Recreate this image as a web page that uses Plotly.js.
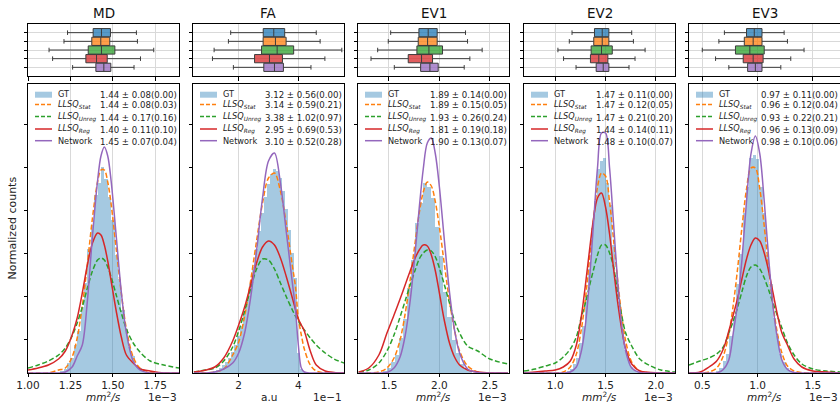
<!DOCTYPE html>
<html><head><meta charset="utf-8">
<script src="https://cdn.plot.ly/plotly-3.0.1.min.js"></script>
<style>html,body{margin:0;padding:0;background:#fff;} #chart{width:840px;height:403px;}</style>
</head><body><div id="chart"></div>
<script>
// ---------------- DATA ----------------
const methodLabels = ['GT', '<i>LLSQ</i><sub><i>Stat</i></sub>', '<i>LLSQ</i><sub><i>Unreg</i></sub>', '<i>LLSQ</i><sub><i>Reg</i></sub>', 'Network'];
const panelTitles = ['MD', 'FA', 'EV1', 'EV2', 'EV3'];

// MD (x in 1e-3 mm^2/s)
const MD_x     = [1.00,1.06,1.12,1.18,1.22,1.26,1.29,1.32,1.35,1.38,1.41,1.43,1.45,1.47,1.49,1.52,1.55,1.58,1.62,1.66,1.72,1.80,1.89];
const MD_stat  = [0,0,0,3,5,16,35,67,109,155,191,203,203,191,169,124,80,44,16,5,1,0,0];
const MD_unreg = [5,8,12,18,25,37,50,66,85,102,113,115,113,106,96,78,60,44,30,21,12,8,5];
const MD_reg   = [3,5,8,14,22,38,55,80,108,130,140,138,128,112,92,62,36,18,10,4,2,0,0];
const MD_net   = [0,0,0,0,1,6,17,28,72,137,192,217,226,217,192,137,81,40,12,3,0,0,0];
const MD_gt    = [2,4,10,15,28,42,66,90,124,148,178,190,206,194,176,153,118,94,63,44,26,17,8,5,2,1];
const MD_gt_start = 1.20, MD_gt_bin = 0.02;
const MD_stats = ['1.44 ± 0.08(0.00)','1.44 ± 0.08(0.03)','1.44 ± 0.17(0.16)','1.40 ± 0.11(0.10)','1.45 ± 0.07(0.04)'];
const MD_q1  = [1.384,1.376,1.355,1.341,1.400];
const MD_med = [1.433,1.429,1.433,1.404,1.447];
const MD_q3  = [1.486,1.482,1.512,1.467,1.488];
const MD_lo  = [1.233,1.212,1.124,1.145,1.263];
const MD_hi  = [1.639,1.645,1.741,1.663,1.625];
const MD_ticks = [1.00,1.25,1.50,1.75], MD_tickText = ['1.00','1.25','1.50','1.75'];

// FA (x in 1e-1 a.u)
const FA_x     = [0.5,0.9,1.2,1.5,1.8,2.0,2.2,2.4,2.6,2.8,3.0,3.2,3.4,3.6,3.8,3.9,4.0,4.1,4.2,4.4,4.6,4.9,5.2,5.53];
const FA_stat  = [0,0,1,4,18,31,57,92,132,170,195,200,182,148,107,87,55,38,24,8,2,0,0,0];
const FA_unreg = [1,3,5,12,26,42,62,84,104,114,113,104,90,76,63,57,52,47,43,35,28,20,14,10];
const FA_reg   = [1,3,6,15,32,48,66,88,110,126,132,128,115,96,75,64,54,48,42,22,8,2,0.5,0];
const FA_net   = [0,0,1,4,10,20,40,75,122,175,212,220,190,140,90,65,28,5,1,0,0,0,0,0];
const FA_gt    = [2,3,5,8,11,15,21,28,37,47,59,73,89,106,124,142,160,176,189,199,204,202,195,182,164,143,120,95,20,4,1];
const FA_gt_start = 1.2, FA_gt_bin = 0.1;
const FA_stats = ['3.12 ± 0.56(0.00)','3.14 ± 0.59(0.21)','3.38 ± 1.02(0.97)','2.95 ± 0.69(0.53)','3.10 ± 0.52(0.28)'];
const FA_q1  = [2.823,2.820,2.767,2.533,2.843];
const FA_med = [3.177,3.233,3.290,3.033,3.200];
const FA_q3  = [3.543,3.590,3.843,3.467,3.500];
const FA_lo  = [1.733,1.657,1.177,1.122,1.823];
const FA_hi  = [4.600,4.730,5.457,4.890,4.423];
const FA_ticks = [2,4], FA_tickText = ['2','4'];

// EV1 (x in 1e-3 mm^2/s)
const EV1_x     = [1.20,1.30,1.40,1.48,1.55,1.61,1.66,1.71,1.76,1.80,1.84,1.88,1.92,1.96,2.00,2.05,2.10,2.15,2.20,2.28,2.38,2.50,2.68];
const EV1_stat  = [0,0,1,5,15,33,59,93,131,160,181,191,187,171,146,108,72,43,22,7,1,0,0];
const EV1_unreg = [1,3,10,22,38,56,72,88,103,114,120,123,122,116,105,88,70,52,40,27,22,14,9];
const EV1_reg   = [1,5,18,40,58,74,88,102,115,123,128,127,118,102,80,52,30,16,8,3,1,0,0];
const EV1_net   = [0,0,0,0.5,5,16,37,72,121,165,204,230,235,219,186,132,81,43,20,4,0.5,0,0];
const EV1_gt    = [2,5,11,18,35,54,85,113,150,170,190,186,175,146,117,81,56,33,20,9,5,2];
const EV1_gt_start = 1.46, EV1_gt_bin = 0.04;
const EV1_stats = ['1.89 ± 0.14(0.00)','1.89 ± 0.15(0.05)','1.93 ± 0.26(0.24)','1.81 ± 0.19(0.18)','1.90 ± 0.13(0.07)'];
const EV1_q1  = [1.797,1.790,1.777,1.691,1.814];
const EV1_med = [1.889,1.883,1.896,1.823,1.906];
const EV1_q3  = [1.978,1.978,2.031,1.932,1.988];
const EV1_lo  = [1.517,1.493,1.388,1.322,1.553];
const EV1_hi  = [2.259,2.279,2.424,2.302,2.246];
const EV1_ticks = [1.5,2.0,2.5], EV1_tickText = ['1.5','2.0','2.5'];

// EV2 (x in 1e-3 mm^2/s)
const EV2_x     = [0.69,0.80,0.90,1.00,1.08,1.15,1.21,1.26,1.30,1.34,1.38,1.42,1.46,1.50,1.54,1.58,1.62,1.66,1.70,1.76,1.84,1.95,2.05,2.19];
const EV2_stat  = [0,0,0,0,1,6,19,44,74,113,153,186,200,197,171,133,93,58,32,11,2,0,0,0];
const EV2_unreg = [2,4,7,10,16,24,36,56,70,87,103,118,128,128,120,106,80,58,40,27,14,7,3,1];
const EV2_reg   = [0,1,2,3,6,12,28,57,88,122,154,175,180,166,139,104,71,44,24,9,2,0.5,0,0];
const EV2_net   = [0,0,0,0,0,1,6,22,48,92,149,205,240,240,205,149,92,48,22,5,0.5,0,0,0];
const EV2_gt    = [2,4,9,15,30,47,77,104,145,172,204,212,215,190,168,128,98,63,42,23,14,6,3,1];
const EV2_gt_start = 1.13, EV2_gt_bin = 0.03;
const EV2_stats = ['1.47 ± 0.11(0.00)','1.47 ± 0.12(0.05)','1.47 ± 0.21(0.20)','1.44 ± 0.14(0.11)','1.48 ± 0.10(0.07)'];
const EV2_q1  = [1.390,1.383,1.357,1.350,1.407];
const EV2_med = [1.467,1.467,1.460,1.433,1.477];
const EV2_q3  = [1.533,1.533,1.567,1.523,1.533];
const EV2_lo  = [1.167,1.140,1.027,1.083,1.207];
const EV2_hi  = [1.760,1.777,1.893,1.793,1.733];
const EV2_ticks = [1.0,1.5,2.0], EV2_tickText = ['1.0','1.5','2.0'];

// EV3 (x in 1e-3 mm^2/s)
const EV3_x     = [0.38,0.48,0.56,0.63,0.69,0.74,0.78,0.82,0.86,0.90,0.94,0.98,1.02,1.06,1.10,1.14,1.18,1.22,1.27,1.33,1.40,1.50,1.62,1.75];
const EV3_stat  = [0,0,1,5,17,39,68,105,147,184,205,205,184,147,105,68,39,20,7,2,0.5,0,0,0];
const EV3_unreg = [8,12,15,19,26,40,52,66,82,97,106,108,104,95,83,70,57,45,30,18,9,4,2,1];
const EV3_reg   = [0,1,6,12,24,42,58,75,95,114,128,135,132,120,102,80,58,40,28,14,6,2,1,0];
const EV3_net   = [0,0,0,0,3.5,13,40,70,115,172,219,237,219,172,115,66,34,13,3.5,0.5,0,0,0,0];
const EV3_gt    = [2,5,12,19,37,55,89,119,160,186,215,218,214,186,160,118,89,55,37,19,11,5,2,1];
const EV3_gt_start = 0.64, EV3_gt_bin = 0.03;
const EV3_stats = ['0.97 ± 0.11(0.00)','0.96 ± 0.12(0.04)','0.93 ± 0.22(0.21)','0.96 ± 0.13(0.09)','0.98 ± 0.10(0.06)'];
const EV3_q1  = [0.900,0.880,0.800,0.870,0.910];
const EV3_med = [0.970,0.960,0.930,0.960,0.980];
const EV3_q3  = [1.040,1.040,1.060,1.050,1.040];
const EV3_lo  = [0.700,0.650,0.500,0.620,0.740];
const EV3_hi  = [1.240,1.270,1.420,1.300,1.210];
const EV3_ticks = [0.5,1.0,1.5], EV3_tickText = ['0.5','1.0','1.5'];

// ---------------- BUILD ----------------
const W = 840, H = 403;
const panels = [
  {x:MD_x, curves:[MD_stat,MD_unreg,MD_reg,MD_net], gt:MD_gt, g0:MD_gt_start, gb:MD_gt_bin, stats:MD_stats, box:[MD_q1,MD_med,MD_q3,MD_lo,MD_hi], range:[1.0,1.89], tv:MD_ticks, tt:MD_tickText, xlabel:'<i>mm</i><sup>2</sup><i>/s</i>', off:'1e\u22123'},
  {x:FA_x, curves:[FA_stat,FA_unreg,FA_reg,FA_net], gt:FA_gt, g0:FA_gt_start, gb:FA_gt_bin, stats:FA_stats, box:[FA_q1,FA_med,FA_q3,FA_lo,FA_hi], range:[0.47,5.53], tv:FA_ticks, tt:FA_tickText, xlabel:'a.u', off:'1e\u22121'},
  {x:EV1_x, curves:[EV1_stat,EV1_unreg,EV1_reg,EV1_net], gt:EV1_gt, g0:EV1_gt_start, gb:EV1_gt_bin, stats:EV1_stats, box:[EV1_q1,EV1_med,EV1_q3,EV1_lo,EV1_hi], range:[1.193,2.69], tv:EV1_ticks, tt:EV1_tickText, xlabel:'<i>mm</i><sup>2</sup><i>/s</i>', off:'1e\u22123'},
  {x:EV2_x, curves:[EV2_stat,EV2_unreg,EV2_reg,EV2_net], gt:EV2_gt, g0:EV2_gt_start, gb:EV2_gt_bin, stats:EV2_stats, box:[EV2_q1,EV2_med,EV2_q3,EV2_lo,EV2_hi], range:[0.69,2.19], tv:EV2_ticks, tt:EV2_tickText, xlabel:'<i>mm</i><sup>2</sup><i>/s</i>', off:'1e\u22123'},
  {x:EV3_x, curves:[EV3_stat,EV3_unreg,EV3_reg,EV3_net], gt:EV3_gt, g0:EV3_gt_start, gb:EV3_gt_bin, stats:EV3_stats, box:[EV3_q1,EV3_med,EV3_q3,EV3_lo,EV3_hi], range:[0.38,1.745], tv:EV3_ticks, tt:EV3_tickText, xlabel:'<i>mm</i><sup>2</sup><i>/s</i>', off:'1e\u22123'}
];

const lefts = [28,193,358,524,689];
const pw = 151;
const mainTop = 84, mainBot = 373, boxTop = 24, boxBot = 76;
const lineColors = ['#ff7f0e','#2ca02c','#d62728','#9467bd'];
const lineDash = ['5px,2.5px','5px,2.5px','solid','solid'];
const boxFill = ['rgba(31,119,180,0.75)','rgba(255,127,14,0.75)','rgba(44,160,44,0.75)','rgba(214,39,40,0.75)','rgba(148,103,189,0.75)'];
const gtFill = 'rgba(31,119,180,0.40)';
const font = 'DejaVu Sans';

const traces = [];
const layout = {
  width: W, height: H, margin:{l:0,r:0,t:0,b:0}, showlegend:false,
  paper_bgcolor:'#fff', plot_bgcolor:'#fff', font:{family:font, color:'#222'},
  bargap:0, annotations:[], shapes:[]
};
const px = v => v / W, py = v => 1 - v / H;

panels.forEach((p, i) => {
  const n = i + 1, nb = i + 6;
  const L = lefts[i], R = L + pw;
  // GT histogram
  traces.push({type:'bar', x:p.gt.map((_, k) => p.g0 + k * p.gb), y:p.gt, width:p.gb,
    marker:{color:gtFill, line:{width:0}}, xaxis:'x'+n, yaxis:'y'+n, hoverinfo:'skip'});
  // curves
  p.curves.forEach((c, j) => {
    traces.push({type:'scatter', mode:'lines', x:p.x, y:c, xaxis:'x'+n, yaxis:'y'+n,
      line:{color:lineColors[j], width:1.5, dash:lineDash[j], shape:'spline', smoothing:0.9}, hoverinfo:'skip'});
  });
  // box plots
  for (let j = 0; j < 5; j++) {
    traces.push({type:'box', orientation:'h', y:[5 - j], q1:[p.box[0][j]], median:[p.box[1][j]], q3:[p.box[2][j]],
      lowerfence:[p.box[3][j]], upperfence:[p.box[4][j]], xaxis:'x'+nb, yaxis:'y'+nb,
      fillcolor:boxFill[j], line:{color:'#3c3c3c', width:1}, width:0.95, whiskerwidth:0.55, boxpoints:false, hoverinfo:'skip'});
  }
  const xd = [L / W, R / W];
  const common = {showline:true, mirror:true, linecolor:'#000', linewidth:1, zeroline:false, ticks:'outside', ticklen:3.5, tickcolor:'#000', tickwidth:1};
  layout['xaxis'+n] = Object.assign({}, common, {domain:xd, anchor:'y'+n, range:p.range, tickvals:p.tv, ticktext:p.tt,
    showgrid:true, gridcolor:'#d9d9d9', gridwidth:1, tickfont:{size:10.5, color:'#222'}, ticklen:3, ticklabelstandoff:-1});
  layout['yaxis'+n] = Object.assign({}, common, {domain:[py(mainBot), py(mainTop)], anchor:'x'+n, range:[0,289],
    tickvals:[34,77,120,163,206,249], showticklabels:false, showgrid:false});
  layout['xaxis'+nb] = Object.assign({}, common, {domain:xd, anchor:'y'+nb, range:p.range, tickvals:p.tv,
    showticklabels:false, showgrid:true, gridcolor:'#d9d9d9'});
  layout['yaxis'+nb] = Object.assign({}, common, {domain:[py(boxBot), py(boxTop)], anchor:'x'+nb, range:[0,6],
    tickvals:[1,2,3,4,5], showticklabels:false, showgrid:true, gridcolor:'#d9d9d9'});

  // titles
  layout.annotations.push({xref:'paper', yref:'paper', x:px((L+R)/2), y:py(13), text:panelTitles[i], showarrow:false,
    xanchor:'center', yanchor:'middle', font:{size:13.5, color:'#111'}});
  // x labels
  layout.annotations.push({xref:'paper', yref:'paper', x:px((L+R)/2), y:0, text:p.xlabel, showarrow:false,
    xanchor:'center', yanchor:'bottom', yshift:-2, font:{size:10.5, color:'#222'}});
  layout.annotations.push({xref:'paper', yref:'paper', x:px(R), y:0, text:p.off, showarrow:false,
    xanchor:'right', yanchor:'bottom', yshift:-2, font:{size:10.5, color:'#222'}});

  // legend
  const rows = [94.7, 105.5, 117.5, 130, 141.7];
  rows.forEach((ry, j) => {
    if (j === 0) {
      layout.shapes.push({type:'rect', xref:'paper', yref:'paper', x0:px(L+7), x1:px(L+24), y0:py(ry+3), y1:py(ry-3),
        fillcolor:gtFill, line:{width:0}});
    } else {
      layout.shapes.push({type:'line', xref:'paper', yref:'paper', x0:px(L+7), x1:px(L+24), y0:py(ry-1), y1:py(ry-1),
        line:{color:lineColors[j-1], width:1.5, dash: j <= 2 ? '4px,2px' : 'solid'}});
    }
    layout.annotations.push({xref:'paper', yref:'paper', x:px(L+28), y:py(ry-1), text:methodLabels[j], showarrow:false,
      xanchor:'left', yanchor:'middle', font:{size:8.2, color:'#222'}});
    layout.annotations.push({xref:'paper', yref:'paper', x:px(L+70), y:py(ry), text:p.stats[j], showarrow:false,
      xanchor:'left', yanchor:'middle', font:{size:8.6, color:'#222'}});
  });
});

layout.annotations.push({xref:'paper', yref:'paper', x:px(12), y:py((mainTop+mainBot)/2), text:'Normalized counts',
  showarrow:false, textangle:-90, xanchor:'center', yanchor:'middle', font:{size:11, color:'#222'}});

Plotly.newPlot('chart', traces, layout, {staticPlot:true, displayModeBar:false});
</script>
</body></html>
